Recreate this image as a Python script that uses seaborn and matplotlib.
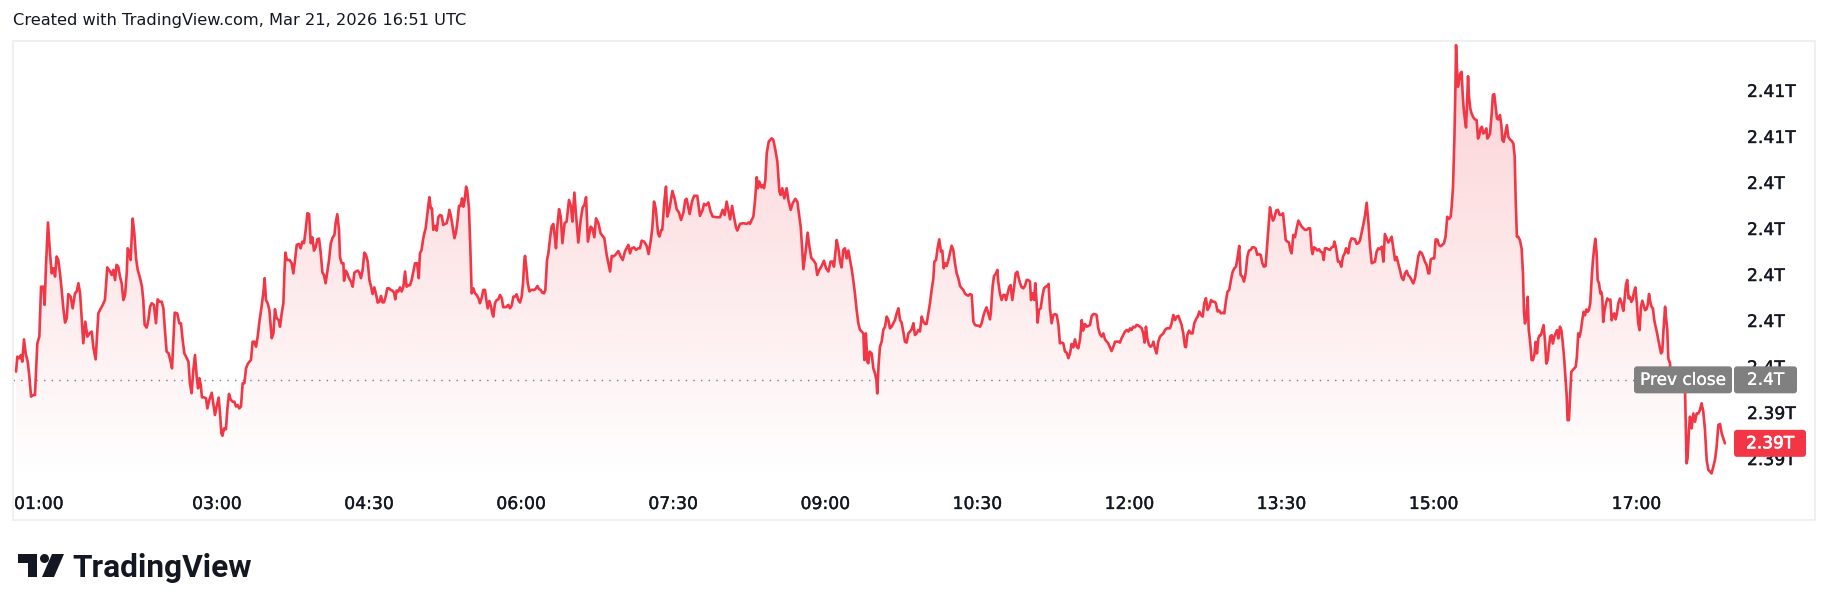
import numpy as np
import matplotlib
import matplotlib.pyplot as plt
import matplotlib.patheffects as pe
import seaborn as sns
from matplotlib.patches import FancyBboxPatch, Rectangle, Polygon, Circle
from matplotlib.transforms import IdentityTransform

# minutes after the 01:00 open (traced vertices of the line)
minutes = [
    1.2, 2.0, 3.2, 4.1, 4.9, 5.9, 6.9, 8.1, 9.1, 10.1,
    11.4, 12.4, 13.8, 15.0, 16.0, 17.4, 18.1, 18.9, 20.1, 21.3,
    22.3, 23.3, 24.3, 25.2, 26.2, 27.2, 28.2, 29.2, 30.2, 31.2,
    32.1, 33.5, 34.7, 36.1, 37.1, 38.1, 39.1, 40.0, 41.0, 42.2,
    43.4, 44.6, 46.0, 46.9, 48.3, 49.9, 50.9, 52.5, 53.8, 55.2,
    56.8, 57.8, 58.8, 59.8, 60.7, 61.7, 62.7, 63.7, 64.7, 65.7,
    66.7, 67.3, 68.2, 69.0, 70.2, 71.2, 72.2, 73.2, 74.6, 75.7,
    76.5, 77.3, 78.5, 79.5, 80.5, 81.5, 82.8, 84.0, 85.0, 86.0,
    87.4, 88.4, 89.3, 90.3, 91.5, 92.7, 93.5, 94.3, 95.1, 96.6,
    97.8, 98.8, 99.8, 100.8, 101.8, 103.2, 104.1, 105.1, 106.1, 107.1,
    108.1, 108.9, 109.7, 110.5, 111.2, 112.4, 113.6, 114.4, 115.6, 117.0,
    117.9, 118.9, 119.9, 121.1, 121.9, 122.7, 123.3, 124.3, 125.4, 126.2,
    127.2, 128.2, 129.4, 130.4, 131.4, 132.3, 133.3, 134.3, 135.3, 136.3,
    137.3, 138.3, 139.3, 140.2, 141.2, 142.2, 143.2, 144.2, 145.2, 146.5,
    147.5, 148.3, 149.1, 150.1, 151.1, 151.9, 152.5, 153.5, 154.4, 155.4,
    156.6, 157.4, 158.4, 159.4, 160.0, 160.6, 161.5, 162.5,
    163.1, 164.3, 165.3, 166.3, 167.3, 168.6, 169.6, 170.6, 171.6, 172.6,
    173.6, 174.6, 175.6, 176.5, 177.5, 178.5, 179.5, 180.5, 181.5, 182.5,
    183.4, 184.4, 185.4, 186.4, 187.4, 188.4, 189.6, 190.3, 191.3, 192.3,
    192.9, 193.9, 194.9, 195.3, 196.3, 197.2, 198.2, 199.4, 200.4, 201.4,
    202.4, 203.4, 204.3, 205.3, 206.3, 207.3, 208.3, 209.3, 210.3, 211.2,
    212.2, 213.2, 214.2, 215.2, 216.2, 217.2, 218.0, 218.9, 219.9, 220.9,
    221.9, 222.9, 223.9, 224.9, 225.6, 226.4, 227.4, 228.4, 229.4, 230.4,
    231.4, 232.3, 233.3, 234.3, 235.3, 236.3, 237.3, 238.5, 239.5, 240.2,
    241.2, 242.0, 242.8, 243.6, 244.4, 245.2, 245.8, 246.6, 247.3, 248.1,
    249.1, 250.1, 251.1, 252.1, 253.1, 254.0, 255.0, 256.0, 257.0, 257.6,
    258.6, 259.6, 260.6, 261.5, 262.5, 263.3, 264.3, 265.1, 265.9, 266.7,
    267.5, 268.2, 269.2, 270.0, 270.8, 271.8, 272.8, 273.8, 274.8, 275.7,
    276.7, 277.7, 278.7, 279.5, 280.3, 281.3, 282.3, 283.0, 283.6, 284.6,
    285.6, 286.6, 287.6, 288.6, 289.5, 290.5, 291.5, 292.5, 293.5, 294.5,
    295.5, 296.5, 297.4, 298.4, 299.4, 300.4, 301.2, 302.0, 302.4, 303.2,
    304.0, 305.0, 305.9, 306.9, 307.9, 308.9, 309.7, 310.7, 311.6, 312.6,
    313.6, 314.4, 315.4, 316.2, 317.2, 318.1, 319.1, 320.1, 320.7, 321.5,
    322.5, 323.5, 324.5,
    325.8, 327.0, 328.4, 329.6, 330.4, 331.6, 332.5, 333.9, 335.3, 336.5,
    337.5, 338.5, 339.6, 341.2, 342.2, 343.4, 344.4, 345.8, 347.1, 349.3,
    350.7, 352.7, 353.7, 354.6, 355.8, 357.6, 359.0, 360.2, 361.5, 363.5,
    364.5, 365.5, 366.9, 368.0, 369.4, 370.4, 371.4, 372.8, 374.4, 375.5,
    376.7, 377.7, 378.7, 379.7, 381.1, 381.9, 383.0, 383.6, 384.8, 385.8,
    386.6, 387.8, 389.6, 391.1, 392.1, 393.5, 394.7, 396.1, 397.2, 398.0,
    399.8, 401.2, 402.4, 404.3, 405.9, 407.5, 408.3, 409.5, 410.9, 412.2,
    413.4, 415.8, 417.8, 419.3, 420.5, 421.7, 423.7, 424.9, 426.0, 427.2,
    428.0, 429.6, 431.6, 433.5, 434.7, 435.5, 436.5, 437.5, 438.5, 439.5,
    440.2, 441.0, 442.2, 443.0, 443.8, 444.6, 445.4, 446.6, 448.3, 449.3,
    450.5, 451.7, 452.9, 453.7, 454.6, 455.8, 457.2, 458.2, 459.6, 460.8,
    462.3, 463.5, 464.7, 465.5, 466.3, 467.1, 468.4, 469.6, 470.6, 471.8,
    473.0, 474.4, 475.3, 476.5, 477.7, 479.3, 480.5, 481.9, 483.2, 484.4,
    485.2, 486.8, 487.8, 488.8,
    489.7, 490.7, 491.7, 492.7, 493.7, 494.7, 495.7, 496.6, 497.6, 498.6,
    499.6, 500.6, 501.6, 502.6, 503.2, 504.1, 504.9, 505.5, 506.3, 507.5,
    508.5, 509.5, 510.3, 510.8, 511.6, 512.4, 513.4, 514.4, 515.4, 516.4,
    517.4, 518.3, 519.3, 520.3, 521.3, 522.3, 523.3, 524.3, 525.2, 526.2,
    527.2, 528.2, 529.2, 530.2, 531.2, 532.2, 533.1, 534.1, 535.1, 536.1,
    537.1, 538.1, 539.1, 540.0, 541.0, 542.0, 543.0, 544.0, 544.6, 545.6,
    546.5, 547.5, 548.5, 549.3, 550.1, 550.9, 551.9, 552.9, 553.8, 554.8,
    555.8, 556.8, 557.8, 558.8, 559.8, 560.8, 561.7, 562.7, 563.7, 564.7,
    565.7, 566.7, 567.7, 568.6, 569.6, 570.6, 571.6, 572.6, 573.6, 574.6,
    575.5, 576.5, 577.5, 578.1, 578.5, 579.1, 579.9, 580.9, 581.9, 582.4,
    583.4, 584.4, 585.4, 586.4, 587.0, 588.0, 588.8, 589.7, 590.7, 591.7,
    592.7, 593.7, 594.3, 595.3, 596.3, 597.2, 598.2, 599.2, 600.2, 601.2,
    601.8, 602.6, 603.6, 604.3, 605.1, 605.7, 606.5, 607.5, 608.5, 609.5,
    610.5, 611.4, 612.2, 613.0, 614.0, 615.0, 616.0, 617.0, 618.0, 618.9,
    619.9, 620.9, 621.9, 622.9, 623.9, 624.9, 625.8, 626.8, 627.8, 628.8,
    629.8, 630.8, 631.8, 632.7, 633.7, 634.7, 635.7, 636.7, 637.7, 638.7,
    639.6, 640.6, 641.6, 642.6, 643.6, 644.6, 645.6, 646.6, 647.5, 648.5,
    649.5, 650.5, 651.5,
    652.5, 653.5, 654.4, 655.4, 656.4, 657.4, 658.4, 659.4, 660.4, 661.3,
    662.3, 663.3, 664.3, 665.3, 666.3, 667.3, 668.2, 669.0, 669.8, 670.6,
    671.6, 672.6, 673.6, 674.2, 675.1, 676.1, 677.1, 678.1, 679.1, 680.1,
    681.1, 682.1, 684.0, 685.0, 686.0, 687.0, 688.0, 689.0, 689.9, 690.9,
    691.9, 692.9, 693.5, 694.3, 695.3, 696.4, 697.4, 698.4, 699.4, 700.4,
    701.4, 702.4, 703.4, 704.3, 705.3, 706.3, 707.3, 708.3, 709.3, 710.3,
    711.2, 712.2, 713.2, 714.2, 715.2, 716.2, 717.2, 718.1, 719.1, 720.1,
    721.1, 722.1, 723.1, 724.1, 725.0, 725.8, 726.8, 727.8, 728.8, 729.8,
    730.8, 731.8, 732.7, 733.7, 734.7, 735.7, 736.7, 737.7, 738.7, 739.6,
    740.6, 741.6, 742.4, 743.2, 744.0, 745.0, 745.9, 746.9, 747.9, 748.9,
    749.9, 750.9, 751.9, 752.5, 753.5, 754.4, 755.2, 756.0, 757.0, 758.0,
    759.0, 760.0, 761.0, 762.0, 762.9, 763.9, 764.9, 765.9, 766.9, 767.9,
    768.4, 769.2, 770.2, 771.2, 772.2, 773.2, 774.2, 775.0, 775.7, 776.7,
    777.7, 778.7, 779.7, 780.7, 781.3, 782.0, 782.6, 783.4, 784.4, 785.4,
    786.4, 787.4, 788.2, 789.0, 789.5, 790.5, 791.5, 792.5, 793.5, 794.5,
    795.5, 796.4, 797.4, 798.4, 799.4, 800.4, 801.4, 802.4, 803.4, 804.3,
    805.3, 806.3, 807.3, 808.3, 809.3, 810.3, 811.2, 812.2, 813.2, 814.2,
    815.2, 816.2, 817.2, 818.1, 819.1, 820.1, 821.1, 822.1, 823.1, 824.1,
    825.0, 826.0, 827.0, 828.0, 829.0, 830.0, 831.0, 831.9, 832.9, 833.9,
    834.9, 835.9, 836.9, 837.5, 838.3, 839.3, 840.4, 841.2, 842.2, 843.2,
    844.2, 845.2, 846.1, 847.1, 848.1, 849.1, 850.1, 850.7, 851.5, 852.3,
    852.9, 853.3, 853.8, 854.4, 855.0, 855.8, 856.6, 857.2, 857.8, 858.6,
    859.2, 859.8, 860.4, 860.9, 861.7, 862.5, 863.5, 864.5, 865.5, 866.3,
    867.1, 867.8, 868.6, 869.4, 870.4, 871.2, 871.8, 872.6, 873.4, 874.4,
    875.1, 875.9, 876.7, 877.5, 878.3, 879.3, 880.1, 880.7, 881.5, 882.4,
    883.4, 884.2, 885.2, 886.2, 887.2, 888.0, 888.6, 889.3, 890.1, 891.1,
    892.1, 892.9, 893.5, 894.1, 894.9, 895.7, 896.3, 896.8, 897.4, 898.0,
    898.8, 899.6, 900.4, 901.2, 902.0, 902.8, 903.5, 904.3, 905.1, 905.9,
    906.7, 907.5, 908.3, 909.1, 909.9, 910.6, 911.4, 912.2, 913.0, 913.8,
    914.8, 915.6, 916.2, 917.2, 917.9, 918.7, 919.3, 920.1, 920.9, 921.5,
    922.3, 923.1, 924.1, 924.8, 925.6, 926.4, 927.2, 928.0, 928.8, 929.6,
    930.4, 931.2, 931.9, 932.7, 933.5, 934.3, 935.1, 935.7, 936.5, 937.1,
    937.9, 938.7, 939.2, 939.8, 940.4, 941.2, 942.0, 942.8, 943.6, 944.6,
    945.4, 946.2, 946.9, 947.7, 948.5, 949.3, 950.3, 951.3, 952.3, 953.0,
    953.8, 954.6, 955.4, 956.2, 957.0, 957.8, 958.6, 959.4, 960.3, 961.1,
    961.9, 962.7, 963.5, 964.3, 965.1, 965.9, 966.7, 967.5, 968.2, 969.0,
    969.8, 970.6, 971.4, 972.2, 973.0, 973.8, 974.6, 975.3, 976.1, 977.0,
    977.5, 978.3, 978.9, 979.9, 980.9, 981.9, 982.8, 983.8, 984.8, 985.8,
    986.8, 987.8, 988.8, 989.7, 990.3, 991.1, 991.7, 992.7, 993.7, 994.7,
    995.7, 996.7, 997.6, 998.6, 999.6, 1000.6, 1001.6, 1002.6, 1003.6, 1004.5,
    1005.5, 1006.5, 1007.5, 1008.5, 1009.5, 1010.5, 1011.4, 1012.4,
]

# market cap, billions of USD
cap_bn = [
    2395.76, 2396.41, 2396.34, 2396.48, 2396.19, 2397.16, 2396.55, 2396.19, 2395.54, 2394.67,
    2394.74, 2394.74, 2396.99, 2397.28, 2399.45, 2399.45, 2398.66, 2400.32, 2402.24, 2400.90,
    2400.03, 2400.25, 2399.89, 2400.76, 2400.61, 2400.03, 2399.31, 2398.51, 2397.89, 2398.08,
    2399.13, 2399.02, 2398.51, 2399.16, 2399.24, 2399.60, 2399.16, 2398.15, 2396.99, 2397.93,
    2397.28, 2397.42, 2397.50, 2396.84, 2396.29, 2398.29, 2398.44, 2398.66, 2398.87, 2400.29,
    2400.11, 2399.96, 2400.18, 2399.74, 2400.40, 2400.32, 2399.89, 2399.60, 2398.87, 2399.09,
    2400.03, 2401.12, 2400.97, 2400.61, 2402.41, 2401.77, 2400.69, 2400.18, 2399.82, 2399.45,
    2398.87, 2397.79, 2397.67, 2398.00, 2398.58, 2398.73, 2398.66, 2397.86, 2398.90, 2398.80,
    2398.80, 2398.51, 2397.57, 2396.63, 2396.55, 2396.19, 2395.90, 2397.13, 2398.32, 2398.29,
    2397.86, 2397.86, 2397.13, 2396.55, 2396.41, 2396.19, 2395.25, 2394.82, 2395.83, 2396.48,
    2395.54, 2395.03, 2395.47, 2395.18, 2394.64, 2394.64, 2394.60, 2394.16, 2394.53, 2394.84,
    2394.38, 2393.87, 2394.24, 2394.63, 2393.95, 2393.08, 2392.97, 2393.29, 2393.25, 2394.09,
    2394.79, 2394.55, 2394.45, 2394.45, 2394.24, 2394.31, 2394.16, 2394.24, 2395.25, 2395.25,
    2395.90, 2396.09, 2396.19, 2396.26, 2397.06, 2397.06, 2396.84, 2397.28, 2397.93, 2398.58,
    2399.16, 2399.82, 2398.87, 2398.73, 2398.44, 2397.71, 2397.21, 2397.42, 2398.47, 2398.08,
    2398.00, 2397.71, 2398.29, 2398.73, 2400.03, 2400.93, 2400.61, 2400.61,
    2400.61, 2400.47, 2400.03, 2400.61, 2401.27, 2401.31, 2401.12, 2401.41, 2401.34, 2401.92,
    2402.64, 2402.61, 2401.34, 2401.60, 2401.02, 2401.16, 2401.51, 2401.54, 2400.90, 2400.06,
    2399.96, 2399.60, 2400.11, 2400.61, 2401.31, 2401.56, 2401.70, 2402.21, 2402.60, 2401.92,
    2400.73, 2400.47, 2400.47, 2399.71, 2400.15, 2400.03, 2399.82, 2399.67, 2399.45, 2400.06,
    2400.11, 2400.15, 2400.06, 2399.82, 2400.18, 2400.93, 2400.83, 2400.54, 2399.74, 2399.48,
    2399.13, 2399.42, 2399.13, 2398.76, 2398.80, 2399.05, 2398.77, 2398.77, 2399.02, 2399.38,
    2399.38, 2399.31, 2399.28, 2399.19, 2398.90, 2399.28, 2399.24, 2399.42, 2399.24, 2399.45,
    2400.11, 2399.45, 2399.51, 2399.51, 2399.74, 2400.11, 2400.47, 2400.47, 2399.82, 2400.90,
    2401.05, 2401.48, 2401.77, 2401.99, 2402.50, 2403.00, 2403.34, 2402.86, 2402.86, 2401.92,
    2402.09, 2401.89, 2402.47, 2402.57, 2402.53, 2402.13, 2402.18, 2402.21, 2402.50, 2402.79,
    2402.50, 2402.03, 2401.56, 2401.80, 2402.35, 2402.96, 2402.96, 2403.29, 2402.93, 2403.22,
    2403.80, 2403.63, 2402.86, 2401.19, 2399.16, 2399.38, 2399.16, 2399.09, 2398.95, 2398.73,
    2398.95, 2399.31, 2399.31, 2398.87, 2398.51, 2398.83, 2398.58, 2398.29, 2398.15, 2398.73,
    2398.87, 2398.90, 2399.09, 2398.95, 2398.56, 2398.56, 2398.58, 2398.66, 2398.51, 2398.63,
    2399.02, 2399.02, 2399.12, 2398.87, 2398.76, 2399.02, 2399.60, 2400.61, 2400.79, 2400.25,
    2399.60, 2399.24, 2399.31, 2399.31, 2399.31, 2399.38, 2399.48, 2399.34, 2399.31, 2399.19,
    2399.16, 2399.31, 2400.61, 2400.90, 2401.56, 2402.06, 2402.18, 2401.56, 2401.12, 2402.06,
    2402.82, 2402.50, 2401.34,
    2402.21, 2402.28, 2403.22, 2402.93, 2402.28, 2403.54, 2402.64, 2401.37, 2402.35, 2402.90,
    2403.00, 2403.34, 2401.41, 2402.06, 2401.99, 2401.60, 2402.42, 2402.21, 2401.77, 2401.56,
    2400.83, 2400.11, 2400.79, 2400.76, 2400.83, 2401.00, 2400.76, 2400.61, 2400.98, 2401.27,
    2400.90, 2401.12, 2401.16, 2401.05, 2401.12, 2401.12, 2401.45, 2401.41, 2401.22, 2400.87,
    2401.41, 2401.99, 2403.15, 2402.86, 2401.77, 2401.63, 2401.92, 2401.92, 2403.15, 2403.80,
    2402.50, 2402.82, 2403.61, 2403.22, 2402.82, 2402.67, 2402.35, 2402.67, 2403.22, 2403.27,
    2402.61, 2403.15, 2403.40, 2403.40, 2402.53, 2402.79, 2403.05, 2402.99, 2403.11, 2402.71,
    2402.50, 2402.47, 2402.47, 2402.79, 2402.57, 2403.15, 2402.38, 2402.96, 2402.50, 2402.03,
    2401.89, 2402.18, 2402.21, 2402.18, 2402.24, 2402.18, 2402.35, 2402.50, 2403.22, 2404.21,
    2403.73, 2404.02, 2403.77, 2403.87, 2403.73, 2404.09, 2405.25, 2405.76, 2405.90, 2405.83,
    2405.40, 2404.89, 2403.58, 2403.44, 2403.73, 2403.29, 2403.73, 2403.22, 2402.79, 2403.08,
    2403.27, 2403.15, 2402.50, 2402.06, 2401.19, 2400.21, 2400.97, 2401.80, 2401.22, 2400.69,
    2400.61, 2400.44, 2399.96, 2400.18, 2400.32, 2400.58, 2400.25, 2400.11, 2400.54, 2400.54,
    2400.32, 2401.48, 2401.12, 2400.54,
    2400.29, 2401.05, 2401.12, 2400.68, 2401.02, 2400.61, 2400.21, 2399.74, 2399.16, 2398.44,
    2397.86, 2397.57, 2397.50, 2397.42, 2396.26, 2397.42, 2396.19, 2396.12, 2396.63, 2396.55,
    2395.90, 2395.68, 2395.39, 2394.81, 2396.05, 2396.84, 2397.06, 2397.57, 2397.71, 2398.15,
    2398.00, 2397.64, 2397.71, 2397.86, 2398.00, 2398.29, 2398.51, 2398.00, 2397.89, 2397.50,
    2397.06, 2397.02, 2397.42, 2397.50, 2397.60, 2397.86, 2397.35, 2397.42, 2397.57, 2397.50,
    2398.15, 2397.93, 2397.83, 2397.83, 2398.29, 2398.73, 2399.31, 2399.81, 2400.54, 2400.61,
    2401.12, 2401.51, 2400.97, 2401.02, 2400.25, 2400.47, 2400.35, 2400.61, 2400.90, 2401.23,
    2401.05, 2400.47, 2400.03, 2399.81, 2399.48, 2399.38, 2399.31, 2399.16, 2399.09, 2399.06,
    2399.13, 2399.09, 2397.93, 2397.79, 2397.76, 2397.76, 2397.71, 2397.86, 2398.18, 2398.41,
    2398.55, 2398.29, 2398.03, 2398.37, 2398.90, 2399.48, 2399.92, 2400.00, 2400.18, 2399.67,
    2399.16, 2398.87, 2399.09, 2399.09, 2398.87, 2399.16, 2399.42, 2399.52, 2398.87, 2399.38,
    2400.03, 2400.10, 2399.89, 2399.60, 2399.42, 2399.38, 2399.48, 2399.74, 2399.74, 2399.67,
    2398.87, 2399.16, 2398.87, 2399.60, 2398.80, 2397.89, 2398.44, 2398.51, 2399.02, 2399.38,
    2399.45, 2399.48, 2399.57, 2398.51, 2397.86, 2398.22, 2398.26, 2398.22, 2397.79, 2396.99,
    2397.02, 2396.99, 2396.63, 2396.58, 2396.34, 2396.55, 2396.96, 2396.81, 2397.16, 2396.84,
    2396.77, 2397.16, 2398.00, 2397.54, 2397.83, 2397.71, 2397.74, 2397.79, 2398.18, 2398.26,
    2398.26, 2398.22, 2397.64, 2397.39, 2397.28, 2397.42, 2397.16, 2397.06, 2396.99, 2396.81,
    2396.65, 2396.84, 2397.06,
    2397.06, 2397.06, 2397.02, 2397.21, 2397.35, 2397.50, 2397.57, 2397.50, 2397.64, 2397.57,
    2397.71, 2397.68, 2397.79, 2397.76, 2397.71, 2397.64, 2397.42, 2397.02, 2397.71, 2397.21,
    2396.92, 2396.84, 2396.92, 2397.06, 2396.77, 2396.55, 2397.06, 2397.28, 2397.35, 2397.42,
    2397.57, 2397.64, 2397.64, 2397.86, 2398.22, 2398.00, 2398.15, 2398.18, 2398.00, 2397.79,
    2397.42, 2396.84, 2396.82, 2397.35, 2397.54, 2397.42, 2397.42, 2397.86, 2398.03, 2398.15,
    2398.37, 2398.22, 2398.15, 2398.73, 2398.95, 2398.44, 2398.58, 2398.87, 2398.80, 2398.80,
    2398.73, 2398.37, 2398.41, 2398.29, 2398.32, 2398.29, 2398.87, 2399.24, 2399.31, 2399.74,
    2400.10, 2400.25, 2400.32, 2400.76, 2401.22, 2399.96, 2399.89, 2399.67, 2400.03, 2400.76,
    2401.02, 2401.05, 2401.16, 2401.16, 2401.12, 2400.83, 2400.87, 2400.83, 2400.47, 2400.32,
    2400.35, 2401.34, 2402.13, 2402.90, 2402.57, 2402.32, 2402.47, 2402.76, 2402.79, 2402.57,
    2402.57, 2402.64, 2401.95, 2401.48, 2401.41, 2401.37, 2401.05, 2400.90, 2401.70, 2401.60,
    2401.99, 2402.32, 2402.18, 2402.06, 2401.99, 2401.92, 2401.92, 2401.99, 2401.99, 2401.05,
    2400.87, 2401.16, 2401.12, 2401.02, 2401.08, 2400.97, 2400.93, 2400.61, 2401.12, 2401.12,
    2401.08, 2401.05, 2401.16, 2401.19, 2401.41, 2401.22, 2400.97, 2400.54, 2400.54, 2400.32,
    2400.76, 2400.90, 2401.12, 2400.97, 2400.90, 2401.37, 2401.55, 2401.53, 2401.51, 2401.31,
    2401.34, 2401.45, 2401.80, 2402.13, 2402.53, 2403.10, 2402.28, 2401.19, 2400.47, 2400.50,
    2400.54, 2400.97, 2401.12, 2401.08, 2401.19, 2400.54, 2401.74, 2401.55, 2401.37, 2401.48,
    2401.62, 2401.11, 2400.60, 2400.75, 2400.46, 2400.17, 2399.85, 2399.74, 2400.03, 2400.14,
    2399.95, 2399.88, 2399.74, 2399.59, 2399.81, 2400.31, 2400.78, 2400.97, 2400.92, 2400.75,
    2400.53, 2400.39, 2400.03, 2400.03, 2400.63, 2400.68, 2400.68, 2401.50, 2401.50, 2401.26,
    2401.21, 2401.27, 2401.33, 2401.62, 2402.49, 2402.39, 2402.49, 2402.92, 2403.79, 2405.82,
    2408.00, 2409.95, 2409.01, 2408.14, 2408.36, 2408.72, 2408.79, 2407.85, 2407.20, 2406.69,
    2406.37, 2407.42, 2408.60, 2407.78, 2407.20, 2406.98, 2406.81, 2406.72, 2406.69, 2405.89,
    2406.04, 2406.33, 2406.40, 2406.11, 2406.18, 2406.33, 2405.89, 2405.97, 2406.11, 2406.98,
    2407.78, 2407.82, 2407.27, 2406.76, 2406.72, 2406.91, 2406.47, 2405.82, 2405.75, 2406.11,
    2406.47, 2405.97, 2405.85, 2405.79, 2405.68, 2405.10, 2403.21, 2401.62, 2401.62, 2401.47,
    2401.11, 2400.03, 2398.36, 2397.85, 2398.14, 2399.01, 2397.56, 2397.27, 2396.84, 2396.26,
    2396.26, 2396.47, 2397.05, 2396.55, 2397.20, 2397.34, 2397.34, 2397.56, 2397.78, 2397.13,
    2396.11, 2396.26, 2396.84, 2397.30, 2397.34, 2396.98, 2397.27, 2397.42, 2397.56, 2397.20,
    2397.71, 2397.56, 2397.20, 2396.40, 2395.68, 2394.81, 2393.65, 2393.65, 2394.81, 2395.75,
    2395.82, 2395.89, 2395.97, 2396.40, 2397.42, 2397.27, 2397.56, 2398.00, 2398.36, 2398.21,
    2398.46, 2398.36, 2398.43, 2398.72, 2399.74, 2400.60, 2401.18, 2401.53, 2400.89, 2399.74,
    2399.59, 2399.16, 2399.23, 2399.01, 2397.92, 2398.43, 2398.72, 2398.94, 2398.87, 2398.89,
    2397.99, 2398.21, 2398.29, 2398.03, 2398.29, 2398.72, 2398.94, 2398.72, 2398.40, 2398.89,
    2399.52, 2399.74, 2398.94, 2399.01, 2398.79, 2398.89, 2399.23, 2399.42, 2398.72, 2397.85,
    2397.56, 2398.58, 2398.84, 2398.65, 2398.43, 2398.46, 2398.65, 2399.13, 2398.79, 2398.58,
    2398.50, 2398.00, 2397.71, 2397.45, 2397.13, 2396.84, 2396.55, 2396.62, 2397.63, 2398.58,
    2398.15, 2397.57, 2396.33, 2396.12, 2394.89, 2394.96, 2394.96, 2395.25, 2395.39, 2395.25,
    2395.83, 2395.39, 2394.96, 2391.77, 2391.99, 2393.22, 2393.80, 2393.29, 2393.94, 2393.58,
    2393.94, 2393.94, 2394.09, 2394.38, 2394.02, 2393.22, 2391.91, 2391.48, 2391.41, 2391.33,
    2391.62, 2391.91, 2392.49, 2393.44, 2393.48, 2393.07, 2392.86, 2392.64,
]

prev_close = 2395.4
time_labels = ['01:00', '03:00', '04:30', '06:00', '07:30', '09:00',
               '10:30', '12:00', '13:30', '15:00', '17:00']
price_ticks = [2392, 2394, 2396, 2398, 2400, 2402, 2404, 2406, 2408]

RED = '#F23645'
INK = '#131722'
GREY = '#808080'
W, H = 1830, 611

sns.set_style('white')
plt.rcParams['font.family'] = ['DejaVu Sans']

fig = plt.figure(figsize=(W / 100, H / 100), dpi=100)
fig.patch.set_facecolor('white')


def fx(px):
    return px / W


def fy(py):
    return 1 - py / H


ax = fig.add_axes([fx(13), fy(479), fx(1815) - fx(13), fy(41) - fy(479)])
ax.set_facecolor('none')

x = 60 + np.asarray(minutes)
y = np.asarray(cap_bn)
ymin, ymax = 2391.09, 2410.13

# gradient area under the line
fill = ax.fill_between(x, y, ymin, color='none', lw=0)
grad = np.zeros((256, 1, 4))
grad[..., :3] = matplotlib.colors.to_rgb(RED)
grad[:, 0, 3] = np.linspace(0.0, 0.23, 256)
img = ax.imshow(grad, extent=[x[0], x[-1], ymin, y.max()], origin='lower',
                aspect='auto', interpolation='bilinear', zorder=1)
img.set_clip_path(fill.get_paths()[0], transform=ax.transData)

sns.lineplot(x=x, y=y, ax=ax, color=RED, linewidth=1.9,
             estimator=None, sort=False, zorder=3)

ax.axhline(prev_close, xmin=0, xmax=(1634 - 13) / 1802, color='#787B86',
           lw=1, ls=(0, (1, 4.5)), zorder=2)

heavy = [pe.withStroke(linewidth=0.25, foreground=INK)]

tick_pos = [int(s[:2]) * 60 + int(s[3:]) for s in time_labels]
ax.set_xticks(tick_pos, time_labels)
ax.yaxis.tick_right()
ax.set_yticks(price_ticks, [f"{round(p / 1000, 2):g}T" for p in price_ticks])
ax.tick_params(axis='x', length=0, pad=11.5, labelsize=12.4, labelcolor=INK)
ax.tick_params(axis='y', length=0, pad=-49, labelsize=12.4, labelcolor=INK)
for lab in ax.get_xticklabels() + ax.get_yticklabels():
    lab.set_path_effects(heavy)
ax.get_xticklabels()[0].set_ha('left')
ax.set_xlim(59.4, 1125.7)
ax.set_ylim(ymin, ymax)
ax.set_xlabel('')
ax.set_ylabel('')
ax.grid(False)
for s in ax.spines.values():
    s.set_visible(False)

# pane border
fig.add_artist(Rectangle((fx(13), fy(520)), fx(1815) - fx(13), fy(41) - fy(520),
                         transform=fig.transFigure, fill=False, ec='#EDEDED', lw=1.2))

fig.text(fx(13), fy(21), 'Created with TradingView.com, Mar 21, 2026 16:51 UTC',
         fontsize=11.7, color=INK, ha='left', va='center')

pix = IdentityTransform()


def value_box(x0, x1, val, text, fc, stroke):
    yc = ax.transData.transform((0, val))[1]
    fig.add_artist(FancyBboxPatch((x0, yc - 13.5), x1 - x0, 27,
                                  boxstyle='round,pad=0,rounding_size=3',
                                  fc=fc, ec='none', transform=pix))
    t = fig.text((x0 + x1) / 2, yc, text, transform=pix, ha='center', va='center',
                 color='white', fontsize=12.2)
    t.set_path_effects([pe.withStroke(linewidth=stroke, foreground='white')])


value_box(1634, 1732, prev_close, 'Prev close', GREY, 0.15)
value_box(1734, 1797, prev_close, f"{round(prev_close / 1000, 2):g}T", GREY, 0.15)
value_box(1734, 1806, y[-1], f"{y[-1] / 1000:.2f}T", RED, 0.5)

# TradingView watermark


def P(pts):
    return [(px, H - py) for px, py in pts]


fig.add_artist(Polygon(P([(18, 554), (37, 554), (37, 577), (28, 577), (28, 563), (18, 563)]),
                       closed=True, fc=INK, ec='none', transform=pix))
fig.add_artist(Circle((44.5, H - 558.5), 4.5, fc=INK, ec='none', transform=pix))
fig.add_artist(Polygon(P([(52, 554), (64, 554), (54, 577), (42, 577)]),
                       closed=True, fc=INK, ec='none', transform=pix))
fig.text(72, H - 577, 'TradingView', transform=pix, family=['Roboto', 'DejaVu Sans'],
         fontweight='bold', fontsize=22.8, color=INK, ha='left', va='baseline')

fig.savefig('out.png', dpi=100, facecolor='white')
